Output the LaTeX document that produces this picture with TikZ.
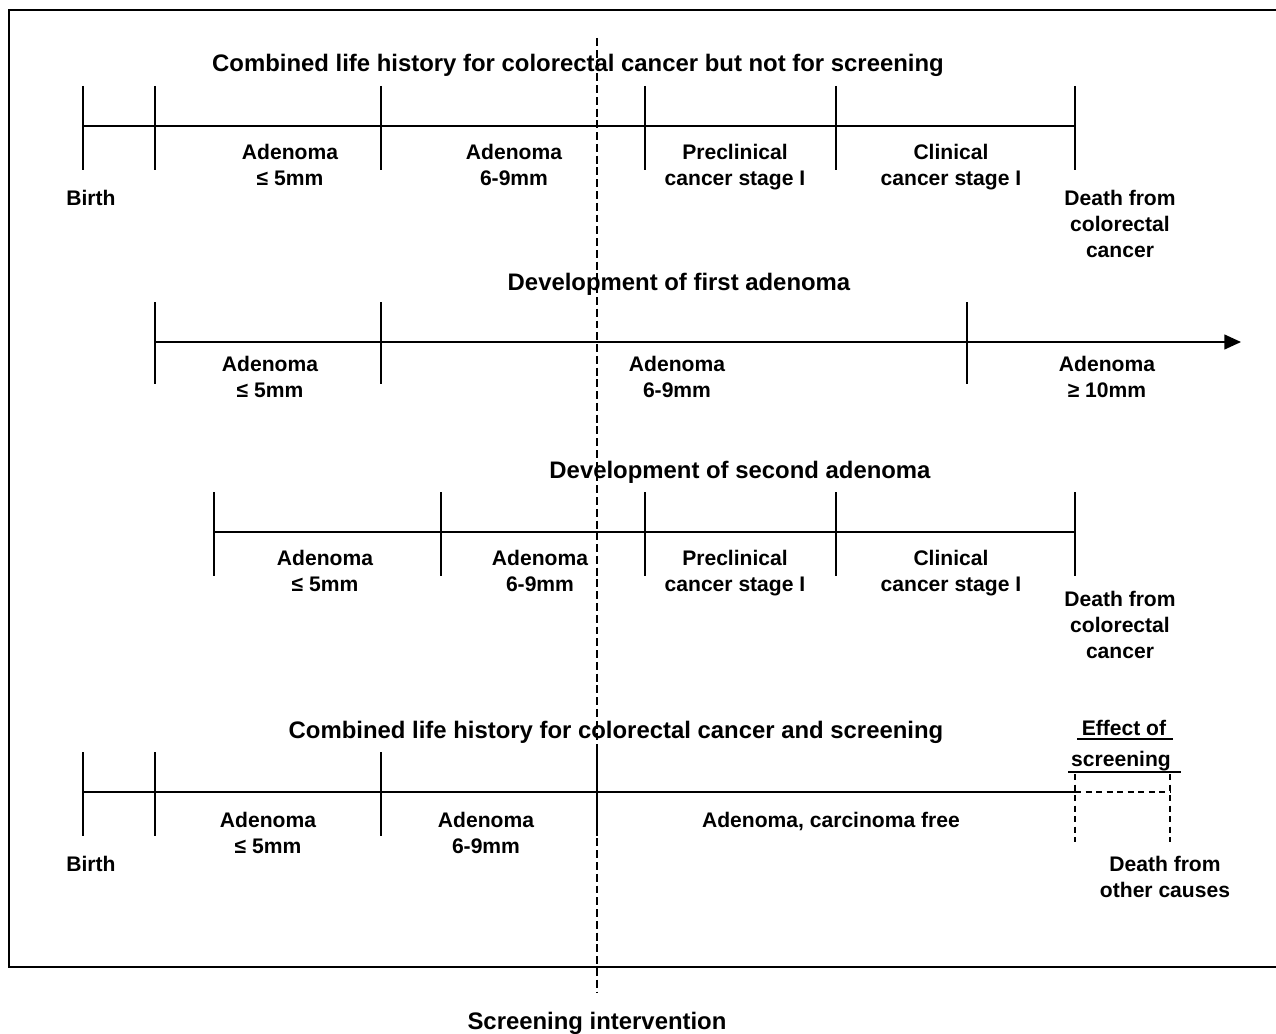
\documentclass[tikz,border=0pt]{standalone}
\usepackage{fontspec}
\setmainfont{Liberation Sans}
\usetikzlibrary{positioning, arrows.meta, calc}

\begin{document}
\begin{tikzpicture}[x=0.02cm, y=-0.02cm,
  line/.style={line width=0.85pt},
  ticks/.style={line width=0.85pt},
  dashline/.style={line width=0.7pt, dash pattern=on 3.5pt off 2.5pt},
  scrline/.style={line width=0.8pt, dash pattern=on 4.5pt off 2.2pt},
  lbl/.style={font=\bfseries\fontsize{12}{14.7}\selectfont, align=center, inner sep=0pt},
  ttl/.style={font=\bfseries\fontsize{13.6}{16}\selectfont, inner sep=0pt}
]
\useasboundingbox (0,0) rectangle (1276,1034);
% frame, open to the right
\draw[line width=1pt] (1280,10) -- (9,10) -- (9,967) -- (1280,967);

% row 1: combined history without screening
\node[ttl] (t1) at (578,65) {Combined life history for colorectal cancer but not for screening};
\coordinate (a0) at (83,126);  \coordinate (a1) at (155,126);
\coordinate (a2) at (381,126); \coordinate (a3) at (645,126);
\coordinate (a4) at (836,126); \coordinate (a5) at (1075,126);
\draw[line] (a0) -- (a5);
\foreach \c in {a0,a1,a2,a3,a4,a5}
  \draw[ticks] ($(\c)+(0,-40)$) -- ($(\c)+(0,44)$);
\node[lbl] (birth1) at (91,198) {Birth};
\node[lbl] (a1lbl) at (290,165) {Adenoma\\≤ 5mm};
\node[lbl] (a2lbl) at (514,165) {Adenoma\\6-9mm};
\node[lbl] (a3lbl) at (735,167) {Preclinical\\cancer stage I};
\node[lbl] (a4lbl) at (951,167) {Clinical\\cancer stage I};
\node[lbl] (death1) at (1120,224) {Death from\\colorectal\\cancer};

% row 2: first adenoma
\node[ttl] (t2) at (679,284) {Development of first adenoma};
\coordinate (b0) at (155,342); \coordinate (b1) at (381,342);
\coordinate (b2) at (967,342); \coordinate (bend) at (1241,342);
\draw[line, -{Triangle[length=9.5pt, width=8.5pt]}] (b0) -- (bend);
\foreach \c in {b0,b1,b2}
  \draw[ticks] ($(\c)+(0,-40)$) -- ($(\c)+(0,42)$);
\node[lbl] (b1lbl) at (270,377) {Adenoma\\≤ 5mm};
\node[lbl] (b2lbl) at (677,377) {Adenoma\\6-9mm};
\node[lbl] (b3lbl) at (1107,377) {Adenoma\\≥ 10mm};

% row 3: second adenoma
\node[ttl] (t3) at (740,472) {Development of second adenoma};
\coordinate (c0) at (214,532); \coordinate (c1) at (441,532);
\coordinate (c2) at (645,532); \coordinate (c3) at (836,532);
\coordinate (c4) at (1075,532);
\draw[line] (c0) -- (c4);
\foreach \c in {c0,c1,c2,c3,c4}
  \draw[ticks] ($(\c)+(0,-40)$) -- ($(\c)+(0,44)$);
\node[lbl] (c1lbl) at (325,571) {Adenoma\\≤ 5mm};
\node[lbl] (c2lbl) at (540,571) {Adenoma\\6-9mm};
\node[lbl] (c3lbl) at (735,573) {Preclinical\\cancer stage I};
\node[lbl] (c4lbl) at (951,573) {Clinical\\cancer stage I};
\node[lbl] (death2) at (1120,625) {Death from\\colorectal\\cancer};

% row 4: combined history with screening
\node[ttl] (t4) at (616,732) {Combined life history for colorectal cancer and screening};
\coordinate (d0) at (83,792);  \coordinate (d1) at (155,792);
\coordinate (d2) at (381,792); \coordinate (d3) at (597,792);
\coordinate (d4) at (1075,792); \coordinate (d5) at (1170,792);
\draw[line] (d0) -- (d4);
\draw[dashline] (d4) -- (d5);
\foreach \c in {d0,d1,d2,d3}
  \draw[ticks] ($(\c)+(0,-40)$) -- ($(\c)+(0,44)$);
\foreach \c in {d4,d5}
  \draw[dashline] ($(\c)+(0,-18)$) -- ($(\c)+(0,50)$);
\node[lbl] (birth2) at (91,864) {Birth};
\node[lbl] (d1lbl) at (268,833) {Adenoma\\≤ 5mm};
\node[lbl] (d2lbl) at (486,833) {Adenoma\\6-9mm};
\node[lbl] (d3lbl) at (831,821) {Adenoma, carcinoma free};
\node[lbl] (death3) at (1165,877) {Death from\\other causes};
\node[lbl] (eff1) at (1124,728) {Effect of};
\node[lbl] (eff2) at (1121,761) {screening};
\draw[line width=0.9pt] (1077,739) -- (1173,739);
\draw[line width=0.9pt] (1068,772) -- (1181,772);

% screening intervention
\coordinate (scrtop) at (597,38);
\coordinate (scrbot) at (597,993);
\draw[scrline] (scrtop) -- (scrbot);
\node[ttl] (scr) at (597,1023) {Screening intervention};
\end{tikzpicture}
\end{document}
